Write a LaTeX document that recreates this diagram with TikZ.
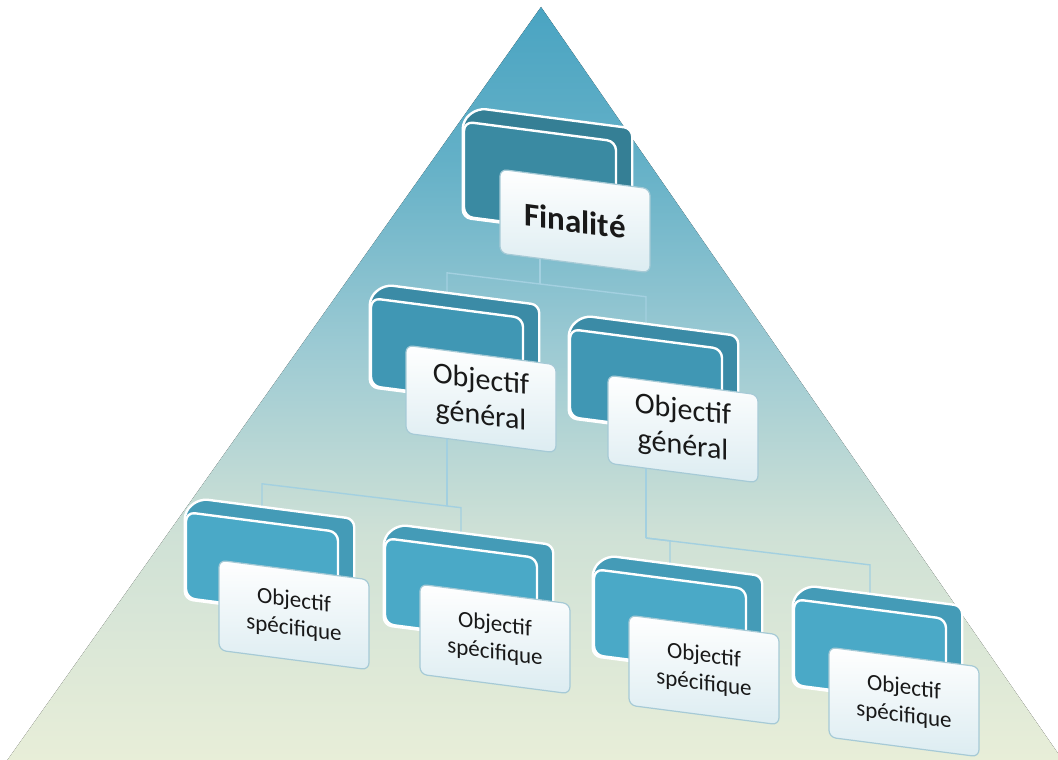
\documentclass[tikz,border=0pt]{standalone}
\usepackage{fontspec}
\setmainfont{Carlito}
\usetikzlibrary{calc, positioning, backgrounds}

\definecolor{pyrA}{HTML}{E8EED8}
\definecolor{pyrB}{HTML}{CFE1D6}
\definecolor{pyrC}{HTML}{9CCAD3}
\definecolor{pyrD}{HTML}{63B0C7}
\definecolor{pyrE}{HTML}{4AA4C2}
\definecolor{tealF}{HTML}{3A8AA2}
\definecolor{tealG}{HTML}{4097B4}
\definecolor{tealS}{HTML}{4AA9C7}
\definecolor{cardline}{HTML}{A6CAD6}
\definecolor{cardbot}{HTML}{DCECF1}
\definecolor{linkblue}{HTML}{A3D0E0}

\pgfdeclareverticalshading{pyramid}{100bp}{color(0bp)=(pyrA); color(25bp)=(pyrA); color(40bp)=(pyrB); color(52.5bp)=(pyrC); color(65bp)=(pyrD); color(75bp)=(pyrE); color(100bp)=(pyrE)}
\pgfdeclarelayer{depth}
\pgfsetlayers{background,depth,main}

\begin{document}
\begin{tikzpicture}[x=1pt, y=-1pt,
  backbox/.style={draw=white, line width=2.4pt, rounded corners=9pt, yslant=-0.13, minimum width=152pt, inner sep=0pt},
  finback/.style={backbox, fill=tealF, minimum height=95pt},
  genback/.style={backbox, fill=tealG, minimum height=88pt},
  specback/.style={backbox, fill=tealS, minimum height=86pt},
  extrude/.style={draw=white, line width=2.4pt, rounded corners=8pt, line join=round},
  card/.style={draw=cardline, line width=1.2pt, rounded corners=7pt, top color=white, bottom color=cardbot, yslant=-0.13, minimum width=150pt, align=center, inner sep=0pt, text=black!90},
  fincard/.style={card, minimum height=84pt, font=\fontsize{33}{38}\selectfont\bfseries},
  gencard/.style={card, minimum height=88pt, font=\fontsize{30}{36}\selectfont},
  speccard/.style={card, minimum height=90pt, font=\fontsize{23}{28}\selectfont},
  link/.style={draw=linkblue, line width=1.4pt}
]
\useasboundingbox (0,0) rectangle (1058,760);

% top
\node (bF) [finback] at (540,179) {};
\node (cF) [fincard] at (575,221) {Finalité};

% general objectives
\node (bGL) [genback] at (447,352) {};
\node (cGL) [gencard] at (481,399) {Objectif\\général};
\node (bGR) [genback] at (646,383) {};
\node (cGR) [gencard] at (683,429) {Objectif\\général};

% specific objectives
\node (bS1) [specback] at (262,565) {};
\node (cS1) [speccard] at (294,615) {Objectif\\spécifique};
\node (bS2) [specback] at (461,591) {};
\node (cS2) [speccard] at (495,639) {Objectif\\spécifique};
\node (bS3) [specback] at (670,622) {};
\node (cS3) [speccard] at (704,670) {Objectif\\spécifique};
\node (bS4) [specback] at (870,652) {};
\node (cS4) [speccard] at (904,702) {Objectif\\spécifique};

% box depth behind each face
\begin{pgfonlayer}{depth}
\foreach \b/\c in {bF/tealF, bGL/tealG, bGR/tealG, bS1/tealS, bS2/tealS, bS3/tealS, bS4/tealS}
  \draw[extrude, fill=\c!92!black] (\b.south west) -- (\b.north west) -- ($(\b.north west)+(15,-12)$) -- ($(\b.north east)+(15,-12)$) -- ($(\b.south east)+(15,-12)$) -- (\b.south east) -- cycle;
\end{pgfonlayer}

\begin{scope}[on background layer]
\fill[shading=pyramid] (541,7) -- (6,762) -- (1064,762) -- cycle;
\path (bF.center) ++(0,105) coordinate (jF);
\path (bGL.center) ++(0,154) coordinate (jGL);
\path (bGR.center) ++(0,155) coordinate (jGR);
\draw[link] (bF.center) -- (jF); \draw[link] (bGL.center) -- (jGL); \draw[link] (bGR.center) -- (jGR);
\foreach \j/\c in {jF/bGL, jF/bGR, jGL/bS1, jGL/bS2, jGR/bS3, jGR/bS4}
  \draw[link] let \p1=(\j), \p2=(\c.center) in (\j) -- (\x2,{\y1-0.12*(\x2-\x1)}) -- (\c.center);
\end{scope}
\end{tikzpicture}
\end{document}
